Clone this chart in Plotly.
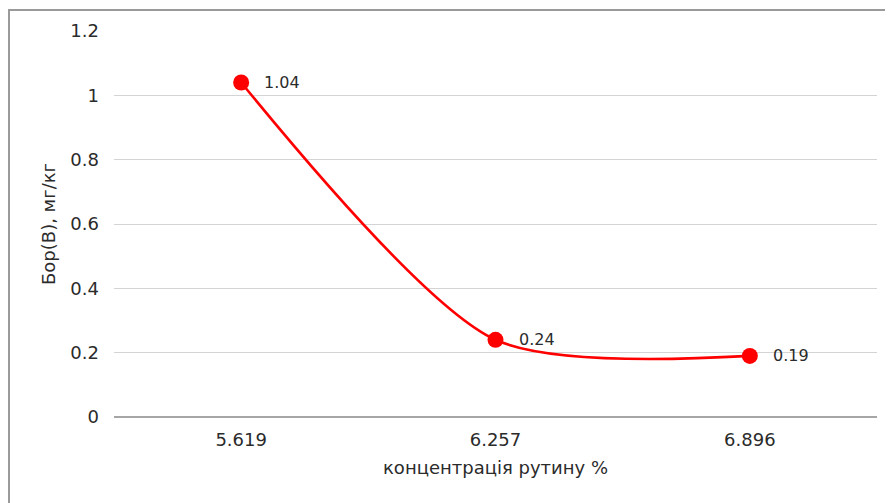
import plotly.graph_objects as go

categories = ["5.619", "6.257", "6.896"]
values = [1.04, 0.24, 0.19]
labels = ["1.04", "0.24", "0.19"]
y_ticks = [0, 0.2, 0.4, 0.6, 0.8, 1.0, 1.2]
y_tick_text = ["0", "0.2", "0.4", "0.6", "0.8", "1", "1.2"]

FONT = "DejaVu Sans, Liberation Sans, Arial"
TXT = "#2b2b2b"

fig = go.Figure()
fig.add_trace(go.Scatter(
    x=categories, y=values,
    mode="lines+markers",
    line=dict(color="#ff0000", width=2.6, shape="spline", smoothing=0.75),
    marker=dict(color="#ff0000", size=16),
    cliponaxis=False,
    showlegend=False,
))

# category axes take the category index for annotation positions
annotations = [
    dict(x=i, y=v, text=t, xref="x", yref="y", showarrow=False,
         xanchor="left", yanchor="middle", xshift=21,
         font=dict(family=FONT, size=16, color=TXT))
    for i, (v, t) in enumerate(zip(values, labels))
]

fig.update_layout(
    width=885, height=495,
    margin=dict(l=106, r=16, t=23, b=86),
    paper_bgcolor="white", plot_bgcolor="white",
    font=dict(family=FONT, color=TXT),
    xaxis=dict(
        type="category", range=[-0.5, 2.5],
        showgrid=False, showline=False, zeroline=False,
        ticks="", tickfont=dict(size=18, color=TXT),
        ticklabelstandoff=10,
        title=dict(text="концентрація рутину %", font=dict(size=18, color=TXT), standoff=12),
    ),
    yaxis=dict(
        range=[0, 1.2], tickvals=y_ticks, ticktext=y_tick_text,
        showgrid=True, gridcolor="#d4d4d4", gridwidth=1,
        zeroline=True, zerolinecolor="#a6a6a6", zerolinewidth=2,
        ticks="", tickfont=dict(size=18, color=TXT),
        ticklabelstandoff=14,
        title=dict(text="Бор(B), мг/кг", font=dict(size=18, color=TXT), standoff=10),
    ),
    annotations=annotations,
    shapes=[dict(
        type="rect", xref="paper", yref="paper",
        x0=(1 - 106) / 763, x1=1.2, y0=-0.4, y1=(409 - 2) / 386,
        line=dict(color="#9a9a9a", width=2), fillcolor="rgba(0,0,0,0)",
    )],
)

fig.write_html("out.html")
